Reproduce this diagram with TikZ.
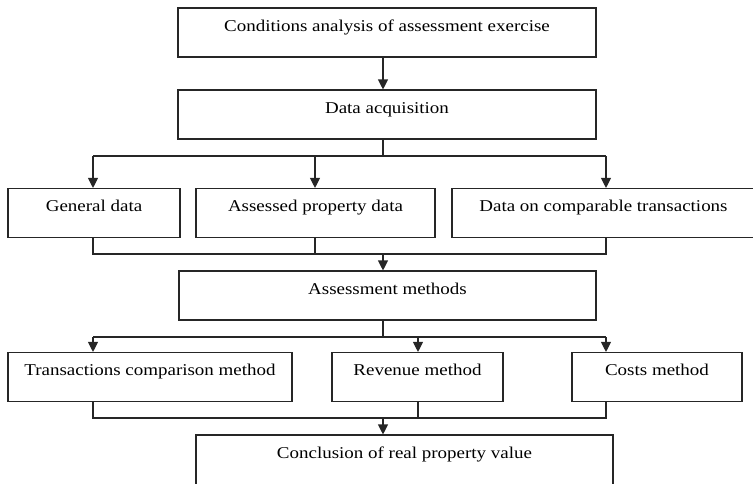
\documentclass[tikz,border=0pt]{standalone}
\usepackage{fontspec}
\setmainfont{Liberation Serif}[FakeStretch=1.15]
\usetikzlibrary{arrows.meta}
\begin{document}
\begin{tikzpicture}[x=1pt,y=-1pt,
  box/.style={draw=black!85, line width=1.1pt, rectangle, inner xsep=0pt, inner ysep=0pt,
    minimum width=#1, text height=23pt, text depth=26pt,
    font=\fontsize{16.5}{19}\selectfont},
  line/.style={draw=black!85, line width=1.1pt},
  arr/.style={line, -{Triangle[length=10pt,width=10pt]}}]
  \useasboundingbox (0,0) rectangle (753,483);
  \clip (0,0) rectangle (753,483);
  % column positions of the vertical connectors
  \coordinate (cL) at (93,0);
  \coordinate (cM) at (315,0);
  \coordinate (cA) at (383,0);
  \coordinate (cR2) at (418,0);
  \coordinate (cR) at (606,0);
  % rows of the horizontal bus lines
  \coordinate (bus1) at (0,156);
  \coordinate (bus2) at (0,254);
  \coordinate (bus3) at (0,337);
  \coordinate (bus4) at (0,418);
  % boxes
  \node[box=418] (b1) at (387,32.5) {Conditions analysis of assessment exercise};
  \node[box=418] (b2) at (387,114.5) {Data acquisition};
  \node[box=172] (g) at (94,213) {General data};
  \node[box=239] (a) at (315.5,213) {Assessed property data};
  \node[box=303] (c) at (603.5,213) {Data on comparable transactions};
  \node[box=417] (m) at (387.5,295.5) {Assessment methods};
  \node[box=284] (t) at (150,377) {Transactions comparison method};
  \node[box=171] (r) at (417.5,377) {Revenue method};
  \node[box=170] (k) at (657,377) {Costs method};
  \node[box=417, text depth=40pt] (f) at (404.5,466.5) {Conclusion of real property value};
  % step 1 to step 2
  \draw[arr] (b1.south -| cA) -- (b2.north -| cA);
  % fan-out to the data sources
  \draw[line] (b2.south -| cA) -- (cA |- bus1);
  \draw[line] (cL |- bus1) -- (cR |- bus1);
  \draw[arr] (cL |- bus1) -- (g.north -| cL);
  \draw[arr] (cM |- bus1) -- (a.north -| cM);
  \draw[arr] (cR |- bus1) -- (c.north -| cR);
  % fan-in to the assessment methods
  \draw[line] (g.south -| cL) -- (cL |- bus2) -- (cR |- bus2) -- (c.south -| cR);
  \draw[line] (a.south -| cM) -- (cM |- bus2);
  \draw[arr] (cA |- bus2) -- (m.north -| cA);
  % fan-out to the three methods
  \draw[line] (m.south -| cA) -- (cA |- bus3);
  \draw[line] (cL |- bus3) -- (cR |- bus3);
  \draw[arr] (cL |- bus3) -- (t.north -| cL);
  \draw[arr] (cR2 |- bus3) -- (r.north -| cR2);
  \draw[arr] (cR |- bus3) -- (k.north -| cR);
  % fan-in to the conclusion
  \draw[line] (t.south -| cL) -- (cL |- bus4) -- (cR |- bus4) -- (k.south -| cR);
  \draw[line] (r.south -| cR2) -- (cR2 |- bus4);
  \draw[arr] (cA |- bus4) -- (f.north -| cA);
\end{tikzpicture}
\end{document}
